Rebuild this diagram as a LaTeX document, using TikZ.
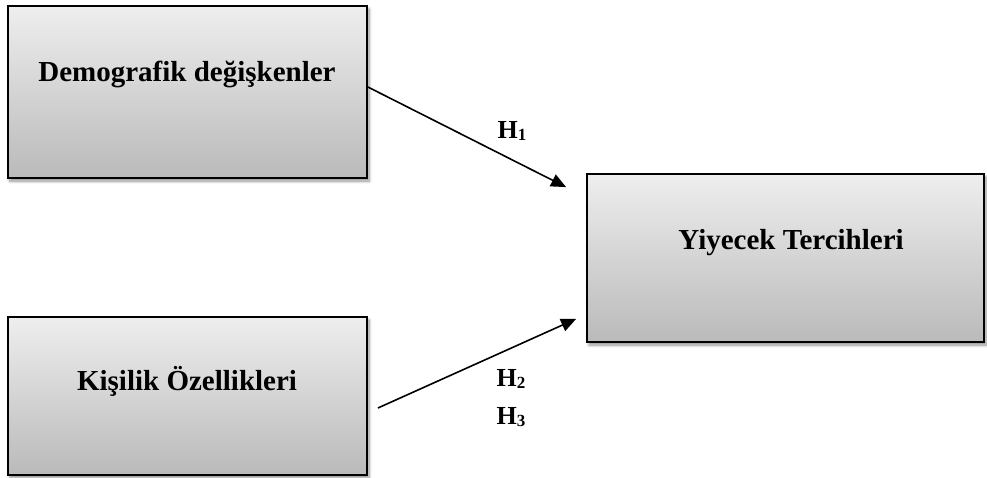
\documentclass[tikz,border=0pt]{standalone}
\usepackage{fontspec}
\setmainfont{Liberation Serif}
\usetikzlibrary{arrows.meta,shadows.blur,calc}

\definecolor{boxtop}{HTML}{EEEEEE}
\definecolor{boxbottom}{HTML}{BABABA}

\tikzset{
  varbox/.style={draw=black, line width=1.8pt, rectangle, inner sep=0pt,
    top color=boxtop, bottom color=boxbottom,
    blur shadow={shadow xshift=2pt, shadow yshift=-3pt, shadow blur steps=6,
      shadow blur radius=3pt, shadow opacity=45}},
  boxlabel/.style={font=\fontsize{29}{34}\selectfont\bfseries, inner sep=0pt},
  hyp/.style={font=\fontsize{26}{30}\selectfont\bfseries, inner sep=0pt},
  link/.style={line width=1.6pt, -{Triangle[length=15pt,width=13pt]}}
}
\newcommand{\hsub}[1]{H\raisebox{-2pt}{\fontsize{17}{20}\selectfont\bfseries #1}}

\begin{document}
\begin{tikzpicture}[x=1pt,y=-1pt]
  \useasboundingbox (0,0) rectangle (987,477);

  % variable boxes
  \node[varbox, minimum width=359pt, minimum height=172pt] (dem) at (187.5,92) {};
  \node[varbox, minimum width=359pt, minimum height=158pt] (kis) at (187.5,396) {};
  \node[varbox, minimum width=397pt, minimum height=168pt] (yiy) at (785.5,258) {};

  % box titles, set above the box centres
  \node[boxlabel] (demt) at (187,74) {Demografik değişkenler};
  \node[boxlabel] (kist) at (187,381) {Kişilik Özellikleri};
  \node[boxlabel] (yiyt) at (791,243) {Yiyecek Tercihleri};

  % hypothesis arrows
  \coordinate (h1end) at ([xshift=-20pt,yshift=-14pt]yiy.north west);
  \coordinate (h2start) at ([xshift=10pt,yshift=-12pt]kis.east);
  \coordinate (h2end) at ([xshift=-10pt,yshift=24pt]yiy.south west);
  \draw[link] ([yshift=5pt]dem.east) -- (h1end);
  \draw[link] (h2start) -- (h2end);

  % hypothesis labels
  \node[hyp] (h1) at (512,131) {\hsub{1}};
  \node[hyp] (h2) at (511,379) {\hsub{2}};
  \node[hyp] (h3) at (511,417) {\hsub{3}};
\end{tikzpicture}
\end{document}
